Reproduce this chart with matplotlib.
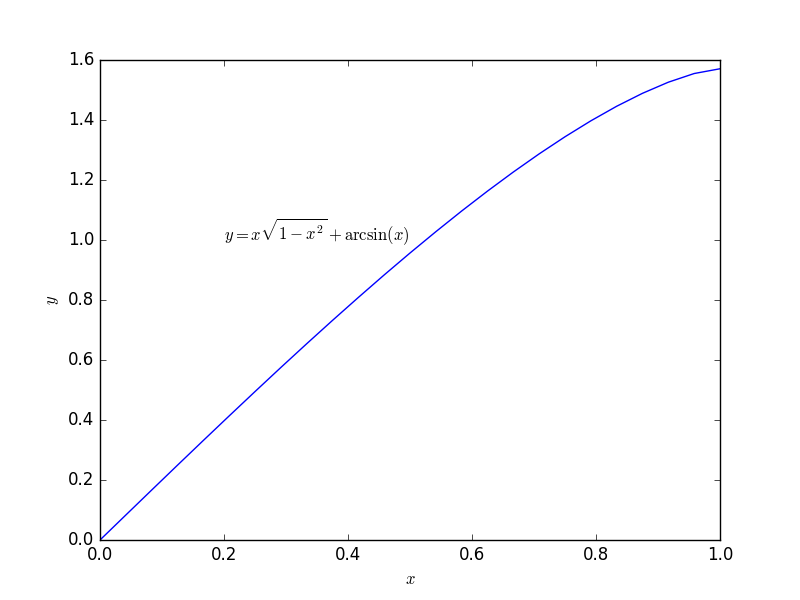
import matplotlib
matplotlib.use("Agg")
import matplotlib.pyplot as plt

plt.style.use("classic")

# curve values (25 samples on [0, 1])
x_vals = [0.0, 0.04167, 0.08333, 0.125, 0.16667, 0.20833, 0.25, 0.29167,
          0.33333, 0.375, 0.41667, 0.45833, 0.5, 0.54167, 0.58333, 0.625,
          0.66667, 0.70833, 0.75, 0.79167, 0.83333, 0.875, 0.91667, 0.95833, 1.0]
y_vals = [0.0, 0.0833, 0.1665, 0.2494, 0.3318, 0.4136, 0.4947, 0.5750,
          0.6541, 0.7320, 0.8085, 0.8835, 0.9566, 1.0277, 1.0966, 1.1630,
          1.2266, 1.2871, 1.3441, 1.3972, 1.4458, 1.4890, 1.5260, 1.5549, 1.5708]
label_text = r"$y = x\sqrt{1-x^2} + \arcsin(x)$"

fig = plt.figure(figsize=(8, 6), dpi=100)
ax = fig.add_subplot(111)
ax.plot(x_vals, y_vals, "b-")
ax.text(0.2, 1.0, label_text)
ax.set_xlabel("$x$")
ax.set_ylabel("$y$")
ax.set_xlim(0, 1)
ax.set_ylim(0, 1.6)

fig.savefig("out.png", dpi=100)
